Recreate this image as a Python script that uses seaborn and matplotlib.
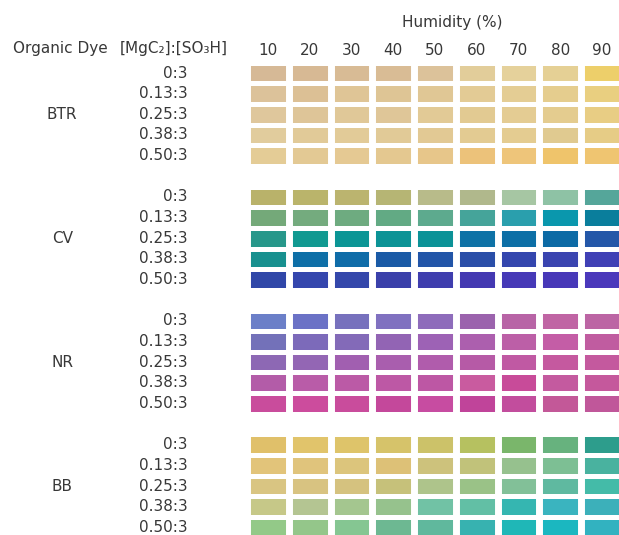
import matplotlib

matplotlib.use("Agg")
import matplotlib.pyplot as plt
import numpy as np
import seaborn as sns
from matplotlib.colors import ListedColormap

humidity = [10, 20, 30, 40, 50, 60, 70, 80, 90]
ratios = ["0:3", "0.13:3", "0.25:3", "0.38:3", "0.50:3"]
dyes = ["BTR", "CV", "NR", "BB"]

# swatch colours, one row per [MgC2]:[SO3H] ratio
btr_colors = [
    ["#d6b996", "#d7b994", "#d8bb95", "#d9bc95", "#dcc29a", "#e2cd9a", "#e5d19b", "#e5d095", "#edcf6a"],
    ["#dcc29a", "#dcc095", "#dfc596", "#dec595", "#e0c795", "#e3cb95", "#e4cd94", "#e5cd8e", "#e9cf80"],
    ["#dfc79c", "#dec598", "#e0c898", "#dfc698", "#e2ca96", "#e2ca92", "#e4cc93", "#e4cc8f", "#e8cd84"],
    ["#e1cc9d", "#e1ca98", "#e2cb98", "#e1ca97", "#e2c994", "#e3cb92", "#e4cc91", "#e0ca90", "#e6cc86"],
    ["#e4cc96", "#e3c994", "#e5c993", "#e4c890", "#e7c68a", "#ecc27a", "#eec57a", "#efc46b", "#efc571"],
]
cv_colors = [
    ["#b9b26a", "#bab46b", "#bbb46f", "#b6b574", "#b8bb8a", "#b0b88c", "#a6c6a3", "#8ec2a5", "#55a69a"],
    ["#74a979", "#74ab7e", "#6eab80", "#62aa84", "#5daa8e", "#45a49a", "#2a9fad", "#0a97ad", "#0a7e9c"],
    ["#27978a", "#119991", "#0b9595", "#0c9396", "#0b9297", "#0e72a6", "#0d6fa6", "#0c6aa5", "#2457a8"],
    ["#18908f", "#0e6fa7", "#0f6ca8", "#1a5aa6", "#2255a8", "#2a4ea8", "#3446ae", "#3a44b0", "#4040b5"],
    ["#3047a8", "#3446ad", "#3447ab", "#3a40aa", "#3f3eae", "#4439b2", "#4639b7", "#4738b8", "#4a38bb"],
]
nr_colors = [
    ["#6b7fc8", "#6b72c6", "#7771bd", "#8071c0", "#8e6cbb", "#9b63ad", "#b864a6", "#c065a4", "#bc65a4"],
    ["#7371b9", "#7c6aba", "#836ab8", "#9264b4", "#9d62b5", "#ac5fae", "#bc5fa7", "#c45da6", "#c05ca0"],
    ["#8d68b4", "#9366b4", "#a15fb0", "#a95eae", "#b05cac", "#b65aa6", "#c059a3", "#c5599f", "#c4599e"],
    ["#b35ca8", "#b95ca8", "#bb5aa6", "#bd58a5", "#bd57a4", "#c95b9f", "#c84b99", "#c45a9f", "#c5589c"],
    ["#c94c9c", "#cc4c9d", "#c94c9c", "#c4489b", "#c74ca1", "#c0449a", "#c24d9d", "#c35898", "#c0579a"],
]
bb_colors = [
    ["#e0c06a", "#e1c46b", "#dec46a", "#d6c36a", "#ccc269", "#b6c160", "#7ab66b", "#67b27e", "#2d9d8c"],
    ["#e2c47a", "#e0c47c", "#dcc57c", "#ddc177", "#cdc27c", "#c1c27a", "#96c18e", "#7dbf94", "#49b29f"],
    ["#d9c582", "#d8c381", "#d5c27f", "#c6c17a", "#aec48b", "#9ac287", "#82c098", "#5fb9a0", "#44bba8"],
    ["#c6c888", "#b4c592", "#a4c68f", "#96c28d", "#71c2a5", "#62bfa5", "#35b6b1", "#3ab4bf", "#3cb0ba"],
    ["#93c988", "#94c68a", "#85c692", "#6db892", "#60b89d", "#37b2b0", "#1fb7b7", "#1bb7c0", "#32b2c0"],
]
dye_colors = [btr_colors, cv_colors, nr_colors, bb_colors]

# one index per swatch, blank row between dyes
palette = []
rows = []
for g, block in enumerate(dye_colors):
    if g > 0:
        rows.append([np.nan] * len(humidity))
    for row in block:
        idx = []
        for c in row:
            idx.append(len(palette))
            palette.append(c)
        rows.append(idx)
mat = np.array(rows, dtype=float)
group_step = len(ratios) + 1

sns.set_theme(style="white")
plt.rcParams["font.family"] = ["DejaVu Sans"]
text_color = "#383838"
fs = 11

fig = plt.figure(figsize=(6.19, 5.35), dpi=100)
W, H = 619, 535
ax = fig.add_axes([247.1 / W, -2.7 / H, 375.75 / W, 475 / H])
sns.heatmap(
    mat,
    cmap=ListedColormap(palette),
    vmin=-0.5,
    vmax=len(palette) - 0.5,
    cbar=False,
    linewidths=2.5,
    linecolor="white",
    ax=ax,
)
for x in range(len(humidity) + 1):
    ax.axvline(x, color="white", lw=5.0)

ax.xaxis.tick_top()
ax.set_xticks(np.arange(len(humidity)) + 0.5)
ax.set_xticklabels([str(h) for h in humidity], fontsize=fs, color=text_color)
ytick_pos = []
ytick_lab = []
for g in range(len(dyes)):
    for i, r in enumerate(ratios):
        ytick_pos.append(g * group_step + i + 0.5)
        ytick_lab.append(r)
ax.set_yticks(ytick_pos)
ax.set_yticklabels(ytick_lab, fontsize=fs, color=text_color, rotation=0)
ax.tick_params(axis="x", length=0, pad=3.5)
ax.tick_params(axis="y", length=0, pad=43)
for lab in ax.get_yticklabels():
    lab.set_horizontalalignment("right")

for g, d in enumerate(dyes):
    ax.text(-4.43, g * group_step + 2.5, d, ha="center", va="center",
            fontsize=fs, color=text_color)

fig.text(60 / W, 1 - 48 / H, "Organic Dye", ha="center", va="center",
         fontsize=fs, color=text_color)
fig.text(174 / W, 1 - 48 / H, "[MgC\u2082]:[SO\u2083H]", ha="center", va="center",
         fontsize=fs, color=text_color)
fig.text(452 / W, 1 - 23 / H, "Humidity (%)", ha="center", va="center",
         fontsize=fs, color=text_color)

fig.savefig("out.png", dpi=100, facecolor="white")
